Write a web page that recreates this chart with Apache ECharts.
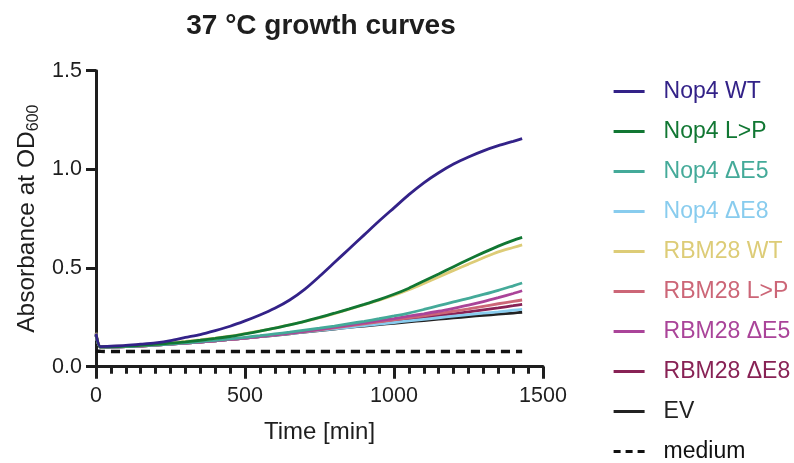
<!DOCTYPE html>
<html>
<head>
<meta charset="utf-8">
<script src="https://cdn.jsdelivr.net/npm/echarts@6/dist/echarts.min.js"></script>
<style>
  html, body { margin: 0; padding: 0; background: #fff; }
  #chart { width: 794px; height: 463px; }
</style>
</head>
<body>
<div id="chart"></div>
<script>
// Sampling times (min)
const times = [0, 15, 50, 100, 150, 200, 250, 300, 350, 400, 450, 500, 550, 600, 650, 700, 750, 800, 850, 900, 950, 1000, 1050, 1100, 1150, 1200, 1250, 1300, 1350, 1400, 1430];

// Absorbance at OD600 per strain
const nop4WT   = [0.168, 0.102, 0.104, 0.108, 0.114, 0.121, 0.132, 0.148, 0.163, 0.183, 0.205, 0.232, 0.262, 0.296, 0.338, 0.392, 0.458, 0.528, 0.598, 0.668, 0.738, 0.805, 0.872, 0.932, 0.983, 1.027, 1.063, 1.094, 1.120, 1.142, 1.156];
const nop4LP   = [0.165, 0.100, 0.101, 0.104, 0.108, 0.113, 0.119, 0.126, 0.134, 0.143, 0.153, 0.166, 0.180, 0.195, 0.212, 0.230, 0.250, 0.271, 0.293, 0.316, 0.340, 0.367, 0.398, 0.434, 0.470, 0.507, 0.543, 0.578, 0.611, 0.640, 0.655];
const nop4dE5  = [0.160, 0.099, 0.100, 0.102, 0.106, 0.110, 0.115, 0.121, 0.127, 0.134, 0.141, 0.149, 0.157, 0.166, 0.175, 0.185, 0.195, 0.206, 0.218, 0.230, 0.243, 0.257, 0.272, 0.290, 0.309, 0.328, 0.346, 0.366, 0.387, 0.410, 0.424];
const nop4dE8  = [0.160, 0.099, 0.100, 0.102, 0.105, 0.109, 0.114, 0.119, 0.125, 0.131, 0.138, 0.145, 0.152, 0.160, 0.168, 0.176, 0.184, 0.192, 0.200, 0.208, 0.216, 0.224, 0.232, 0.240, 0.248, 0.256, 0.264, 0.271, 0.278, 0.286, 0.290];
const rbm28WT  = [0.172, 0.101, 0.103, 0.106, 0.110, 0.115, 0.121, 0.128, 0.136, 0.145, 0.155, 0.168, 0.181, 0.196, 0.212, 0.229, 0.248, 0.269, 0.291, 0.314, 0.337, 0.362, 0.390, 0.422, 0.455, 0.488, 0.520, 0.552, 0.582, 0.604, 0.617];
const rbm28LP  = [0.160, 0.099, 0.100, 0.102, 0.105, 0.109, 0.114, 0.119, 0.125, 0.131, 0.138, 0.145, 0.153, 0.161, 0.169, 0.178, 0.187, 0.197, 0.207, 0.217, 0.227, 0.237, 0.247, 0.258, 0.269, 0.281, 0.293, 0.306, 0.319, 0.331, 0.338];
const rbm28dE5 = [0.160, 0.099, 0.100, 0.102, 0.105, 0.109, 0.114, 0.119, 0.125, 0.131, 0.138, 0.145, 0.153, 0.161, 0.170, 0.179, 0.189, 0.200, 0.211, 0.222, 0.233, 0.244, 0.256, 0.268, 0.281, 0.296, 0.312, 0.330, 0.350, 0.371, 0.385];
const rbm28dE8 = [0.160, 0.099, 0.100, 0.102, 0.105, 0.109, 0.114, 0.119, 0.125, 0.131, 0.138, 0.145, 0.153, 0.161, 0.169, 0.178, 0.187, 0.196, 0.205, 0.214, 0.223, 0.232, 0.241, 0.250, 0.259, 0.268, 0.278, 0.288, 0.298, 0.309, 0.316];
const ev       = [0.160, 0.099, 0.100, 0.102, 0.105, 0.109, 0.114, 0.119, 0.125, 0.131, 0.138, 0.145, 0.152, 0.159, 0.167, 0.175, 0.183, 0.191, 0.199, 0.206, 0.213, 0.220, 0.227, 0.234, 0.241, 0.247, 0.254, 0.260, 0.266, 0.272, 0.276];
const medium   = [0.080, 0.078, 0.077, 0.077, 0.077, 0.077, 0.077, 0.077, 0.077, 0.077, 0.077, 0.077, 0.077, 0.077, 0.077, 0.077, 0.077, 0.077, 0.077, 0.077, 0.077, 0.077, 0.077, 0.077, 0.077, 0.077, 0.077, 0.077, 0.077, 0.077, 0.077];

// Axis ticks
const xTicks = [0, 500, 1000, 1500];
const yTicks = [0.0, 0.5, 1.0, 1.5];

// Legend order, top to bottom
const legendOrder = ['Nop4 WT', 'Nop4 L>P', 'Nop4 ΔE5', 'Nop4 ΔE8', 'RBM28 WT', 'RBM28 L>P', 'RBM28 ΔE5', 'RBM28 ΔE8', 'EV', 'medium'];

const FONT = '"Liberation Sans", Arial, Helvetica, sans-serif';
const INK = '#1e1e1e';

// Strains: name, values, colour, dash; drawn back to front
const strains = [
  { name: 'medium',    values: medium,   color: '#111111', dash: [9, 6] },
  { name: 'EV',        values: ev,       color: '#222222' },
  { name: 'RBM28 ΔE8', values: rbm28dE8, color: '#882255' },
  { name: 'Nop4 ΔE8',  values: nop4dE8,  color: '#88CCEE' },
  { name: 'RBM28 L>P', values: rbm28LP,  color: '#CC6677' },
  { name: 'RBM28 ΔE5', values: rbm28dE5, color: '#AA4499' },
  { name: 'Nop4 ΔE5',  values: nop4dE5,  color: '#44AA99' },
  { name: 'RBM28 WT',  values: rbm28WT,  color: '#DDCC77' },
  { name: 'Nop4 L>P',  values: nop4LP,   color: '#117733' },
  { name: 'Nop4 WT',   values: nop4WT,   color: '#332288' }
];

const colorOf = {};
const dashOf = {};
strains.forEach(s => { colorOf[s.name] = s.color; dashOf[s.name] = !!s.dash; });

const series = strains.map(s => ({
  name: s.name,
  type: 'line',
  data: times.map((t, i) => [t, s.values[i]]),
  showSymbol: false,
  symbol: 'none',
  smooth: 0.25,
  lineStyle: {
    color: s.color,
    width: s.dash ? 3.5 : 2.8,
    type: s.dash ? s.dash : 'solid',
    cap: 'butt'
  },
  itemStyle: { color: s.color },
  emphasis: { disabled: true },
  silent: true
}));

// Legend entries: coloured text, shorter dashes for the dashed key
const legendData = legendOrder.map(n => {
  const item = { name: n, textStyle: { color: colorOf[n] } };
  if (dashOf[n]) item.lineStyle = { type: [7, 5], width: 3.2 };
  return item;
});

const chart = echarts.init(document.getElementById('chart'), null, { renderer: 'canvas' });

chart.setOption({
  animation: false,
  backgroundColor: '#ffffff',
  title: {
    text: '37 °C growth curves',
    left: 316,
    top: 7,
    textAlign: 'center',
    textStyle: { fontFamily: FONT, fontSize: 28, fontWeight: 'bold', color: INK }
  },
  grid: {
    left: 96, right: 251, top: 70.7, bottom: 96.3,
    containLabel: false,
    outerBoundsMode: 'none'
  },
  legend: {
    orient: 'vertical',
    left: 612,
    top: 80,
    height: 420,
    padding: 0,
    itemWidth: 31,
    itemHeight: 2,
    itemGap: 17,
    selectedMode: false,
    itemStyle: { opacity: 0 },
    lineStyle: { width: 3 },
    data: legendData,
    textStyle: { fontFamily: FONT, fontSize: 23, padding: [0, 0, 0, 14] }
  },
  xAxis: {
    type: 'value',
    min: xTicks[0],
    max: xTicks[xTicks.length - 1],
    interval: xTicks[1] - xTicks[0],
    name: 'Time [min]',
    nameLocation: 'middle',
    nameGap: 54,
    nameTextStyle: { fontFamily: FONT, fontSize: 24, color: INK },
    axisLine: { show: true, onZero: false, lineStyle: { color: INK, width: 3 } },
    axisTick: { show: true, inside: false, length: 12, lineStyle: { color: INK, width: 3 } },
    minorTick: { show: true, splitNumber: 10, length: 7, lineStyle: { color: INK, width: 3 } },
    axisLabel: {
      fontFamily: FONT, fontSize: 21.5, color: INK, margin: 18,
      formatter: v => String(v)
    },
    splitLine: { show: false }
  },
  yAxis: {
    type: 'value',
    min: yTicks[0],
    max: yTicks[yTicks.length - 1],
    interval: yTicks[1] - yTicks[0],
    name: '{main|Absorbance at OD}{sub|600}',
    nameLocation: 'middle',
    nameRotate: 90,
    nameGap: 52,
    nameTextStyle: {
      fontFamily: FONT, color: INK,
      rich: {
        main: { fontFamily: FONT, fontSize: 24.5, color: INK, lineHeight: 30 },
        sub: { fontFamily: FONT, fontSize: 16, color: INK, lineHeight: 30, padding: [12, 0, 0, 0] }
      }
    },
    axisLine: { show: true, lineStyle: { color: INK, width: 3 } },
    axisTick: { show: true, inside: false, length: 10, lineStyle: { color: INK, width: 3 } },
    axisLabel: {
      fontFamily: FONT, fontSize: 21.5, color: INK, margin: 14,
      formatter: v => v.toFixed(1)
    },
    splitLine: { show: false }
  },
  series: series
});
</script>
</body>
</html>
